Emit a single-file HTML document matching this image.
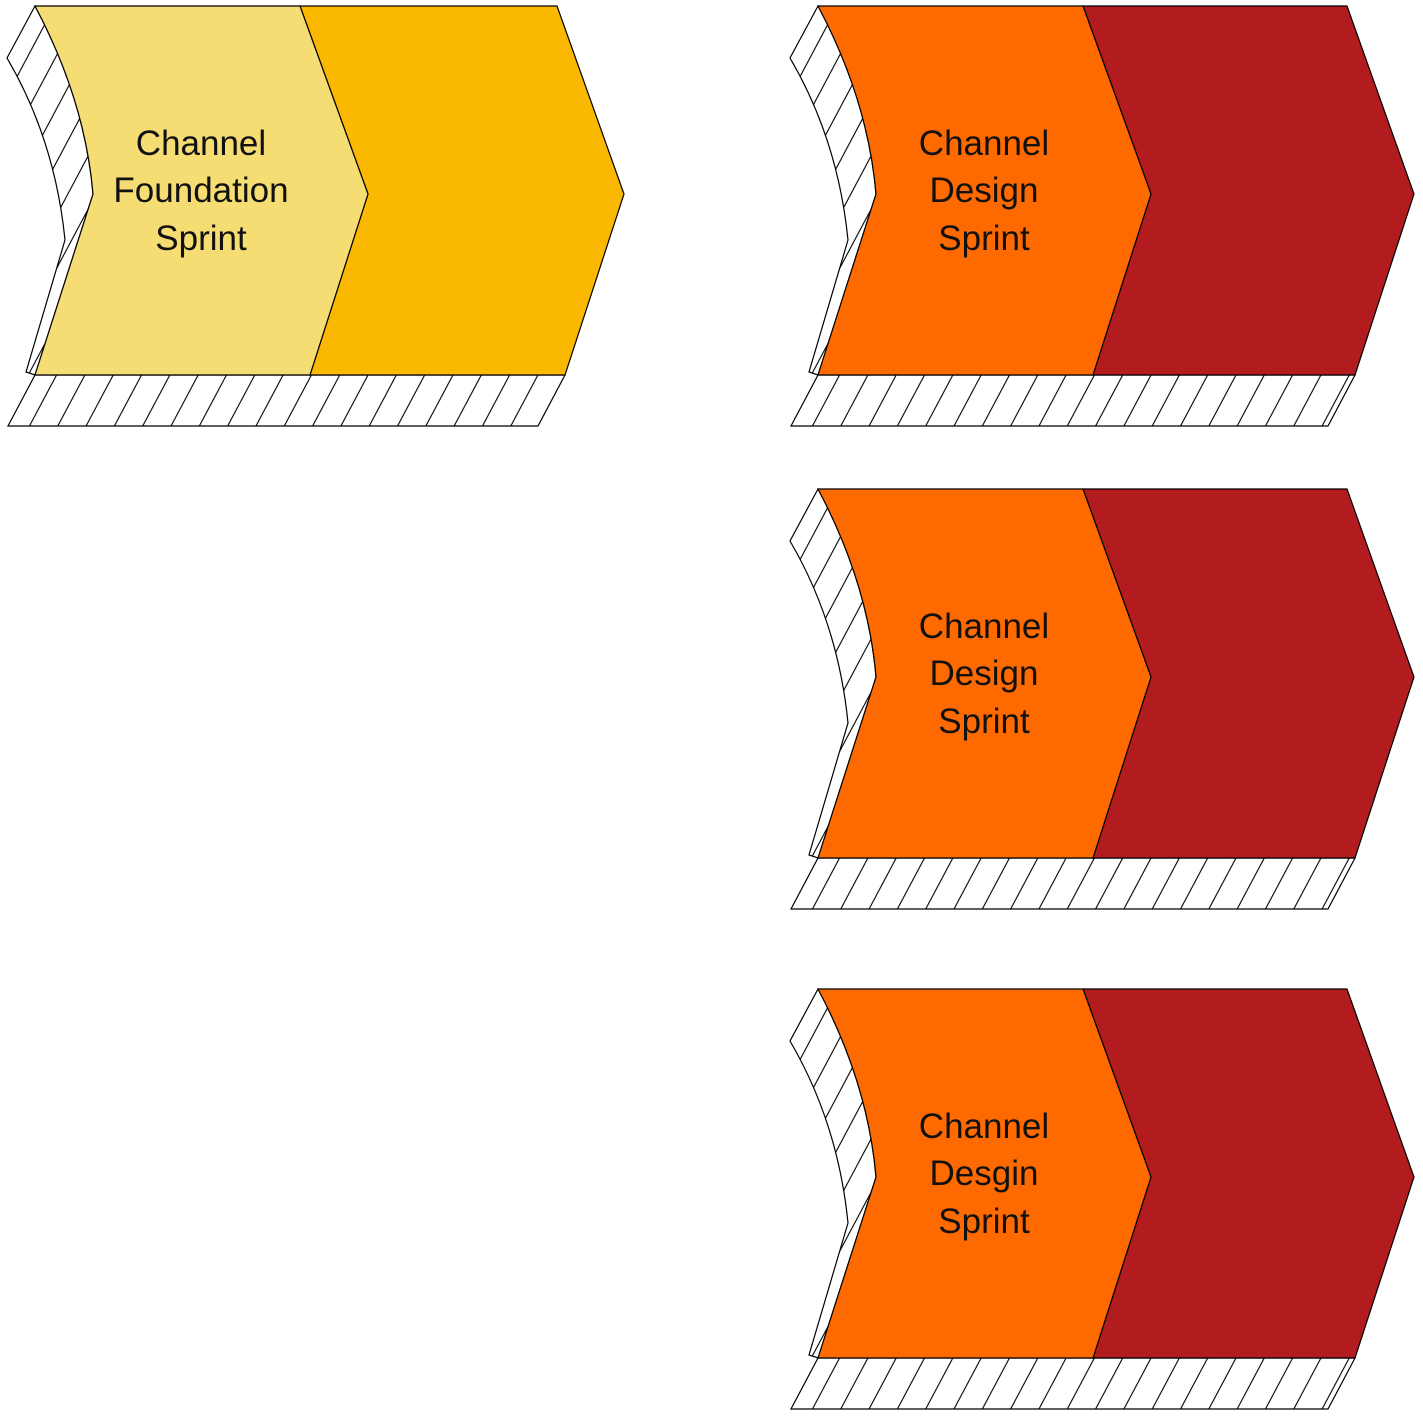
<!DOCTYPE html>
<html><head><meta charset="utf-8"><style>
html,body{margin:0;padding:0;background:#fff;}
svg{display:block;}
text{font-family:"Liberation Sans",sans-serif;font-size:35px;fill:#111;text-anchor:middle;}
</style></head><body>
<svg width="1423" height="1416" viewBox="0 0 1423 1416" xmlns="http://www.w3.org/2000/svg">
<defs>
<pattern id="h" patternUnits="userSpaceOnUse" width="25" height="60" patternTransform="rotate(28)">
<rect width="25" height="60" fill="#fff"/>
<line x1="1" y1="0" x2="1" y2="60" stroke="#000" stroke-width="1.1"/>
</pattern>
<g id="base">
<path d="M35,6 L7,58 Q55,140 65,240 L26,372 L35,375 L93,194 Q85,100 35,6 Z" fill="url(#h)" stroke="#000" stroke-width="1.2"/>
</g>
</defs>

<!-- Group 1 -->
<g>
<use href="#base"/>
<path d="M35,375 L565,375 L538,426 L8,426 Z" fill="url(#h)" stroke="#000" stroke-width="1.2"/>
<path d="M300,6 L557,6 L624,194 L565,375 L310,375 L368,194 Z" fill="#fbb800" stroke="#000" stroke-width="1.2"/>
<path d="M35,6 L300,6 L368,194 L310,375 L35,375 L93,194 Q85,100 35,6 Z" fill="#f5dc73" stroke="#000" stroke-width="1.2"/>
<text x="201" y="155">Channel</text>
<text x="201" y="202">Foundation</text>
<text x="201" y="250">Sprint</text>
</g>

<!-- Group 2 -->
<g transform="translate(783,0)">
<use href="#base"/>
<path d="M35,375 L572,375 L545,426 L8,426 Z" fill="url(#h)" stroke="#000" stroke-width="1.2"/>
<path d="M300,6 L564,6 L631,194 L572,375 L310,375 L368,194 Z" fill="#b31c1e" stroke="#000" stroke-width="1.2"/>
<path d="M35,6 L300,6 L368,194 L310,375 L35,375 L93,194 Q85,100 35,6 Z" fill="#ff6a00" stroke="#000" stroke-width="1.2"/>
<text x="201" y="155">Channel</text>
<text x="201" y="202">Design</text>
<text x="201" y="250">Sprint</text>
</g>

<!-- Group 3 -->
<g transform="translate(783,483)">
<use href="#base"/>
<path d="M35,375 L572,375 L545,426 L8,426 Z" fill="url(#h)" stroke="#000" stroke-width="1.2"/>
<path d="M300,6 L564,6 L631,194 L572,375 L310,375 L368,194 Z" fill="#b31c1e" stroke="#000" stroke-width="1.2"/>
<path d="M35,6 L300,6 L368,194 L310,375 L35,375 L93,194 Q85,100 35,6 Z" fill="#ff6a00" stroke="#000" stroke-width="1.2"/>
<text x="201" y="155">Channel</text>
<text x="201" y="202">Design</text>
<text x="201" y="250">Sprint</text>
</g>

<!-- Group 4 -->
<g transform="translate(783,983)">
<use href="#base"/>
<path d="M35,375 L572,375 L545,426 L8,426 Z" fill="url(#h)" stroke="#000" stroke-width="1.2"/>
<path d="M300,6 L564,6 L631,194 L572,375 L310,375 L368,194 Z" fill="#b31c1e" stroke="#000" stroke-width="1.2"/>
<path d="M35,6 L300,6 L368,194 L310,375 L35,375 L93,194 Q85,100 35,6 Z" fill="#ff6a00" stroke="#000" stroke-width="1.2"/>
<text x="201" y="155">Channel</text>
<text x="201" y="202">Desgin</text>
<text x="201" y="250">Sprint</text>
</g>
</svg>
</body></html>
